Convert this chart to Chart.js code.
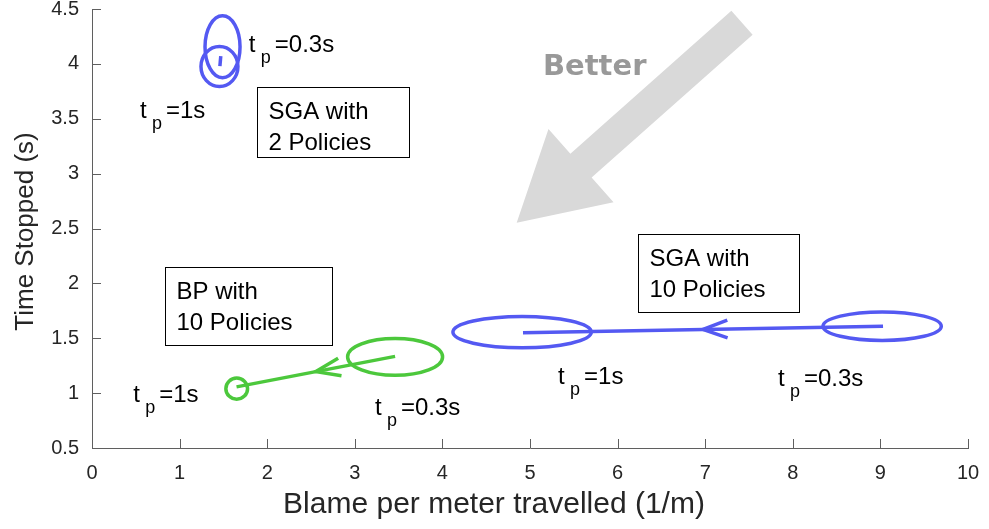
<!DOCTYPE html>
<html>
<head>
<meta charset="utf-8">
<script src="https://cdn.jsdelivr.net/npm/chart.js@4/dist/chart.umd.min.js"></script>
<style>
  html, body { margin: 0; padding: 0; background: #fff; }
  #wrap { width: 989px; height: 529px; position: relative; }
</style>
</head>
<body>
<div id="wrap"><canvas id="tradeoff"></canvas></div>
<script>
// axis ticks
const xTickValues = [0, 1, 2, 3, 4, 5, 6, 7, 8, 9, 10];
const yTickValues = [0.5, 1, 1.5, 2, 2.5, 3, 3.5, 4, 4.5];

// mean trajectories (t_p = 0.3s -> t_p = 1s)
const sga2X = [1.47, 1.46];
const sga2Y = [4.07, 3.98];
const sga10X = [9.03, 4.92];
const sga10Y = [1.61, 1.55];
const bpX = [3.46, 1.65];
const bpY = [1.335, 1.057];

// spread ellipses at both ends
const ellipseGroup = ['sga2', 'sga2', 'sga10', 'sga10', 'bp', 'bp'];
const ellipseCx = [1.49, 1.455, 4.91, 9.02, 3.46, 1.652];
const ellipseCy = [4.156, 3.976, 1.556, 1.61, 1.33, 1.041];
const ellipseRx = [0.20, 0.211, 0.79, 0.675, 0.542, 0.124];
const ellipseRy = [0.283, 0.182, 0.143, 0.13, 0.167, 0.096];

// t_p labels
const tpLabelX = [1.79, 0.548, 0.47, 3.23, 5.32, 7.83];
const tpLabelY = [4.11, 3.505, 0.92, 0.80, 1.087, 1.066];
const tpLabelText = ['0.3s', '1s', '1s', '0.3s', '1s', '0.3s'];

// boxed method names
const boxLines = [['SGA with', '2 Policies'], ['BP with', '10 Policies'], ['SGA with', '10 Policies']];
const boxX0 = [1.884, 0.833, 6.236];
const boxX1 = [3.619, 2.743, 8.074];
const boxYTop = [3.791, 2.151, 2.447];
const boxYBot = [3.152, 1.437, 1.735];

// "Better" arrow
const betterTail = [7.42, 4.375];
const betterTip = [4.848, 2.553];
const betterTextPos = [5.148, 3.90];

const BLUE = '#5459f2';
const GREEN = '#4cc83c';
const groupColor = { sga2: BLUE, sga10: BLUE, bp: GREEN };
const FONT = "'Liberation Sans', Arial, Helvetica, sans-serif";

function pts(xs, ys) {
    return xs.map((x, i) => ({ x: x, y: ys[i] }));
}

function noOverflow(s) {
    s.paddingTop = 0;
    s.paddingBottom = 0;
    s.paddingLeft = 0;
    s.paddingRight = 0;
}

const decorations = {
    id: 'decorations',
    beforeDatasetsDraw(chart) {
        const c = chart.ctx, xs = chart.scales.x, ys = chart.scales.y;
        // big gray arrow
        const tx = xs.getPixelForValue(betterTail[0]), ty = ys.getPixelForValue(betterTail[1]);
        const hx = xs.getPixelForValue(betterTip[0]), hy = ys.getPixelForValue(betterTip[1]);
        const L = Math.hypot(hx - tx, hy - ty);
        const ux = (hx - tx) / L, uy = (hy - ty) / L;
        const nx = -uy, ny = ux;
        const bx = hx - ux * 86, by = hy - uy * 86;
        c.save();
        c.fillStyle = '#d9d9d9';
        c.beginPath();
        c.moveTo(tx + nx * 16, ty + ny * 16);
        c.lineTo(bx + nx * 16, by + ny * 16);
        c.lineTo(bx + nx * 49, by + ny * 49);
        c.lineTo(hx, hy);
        c.lineTo(bx - nx * 49, by - ny * 49);
        c.lineTo(bx - nx * 16, by - ny * 16);
        c.lineTo(tx - nx * 16, ty - ny * 16);
        c.closePath();
        c.fill();
        c.fillStyle = '#999999';
        c.font = "bold 29px 'DejaVu Sans', sans-serif";
        c.textBaseline = 'alphabetic';
        c.fillText('Better', xs.getPixelForValue(betterTextPos[0]), ys.getPixelForValue(betterTextPos[1]));
        c.restore();
    },
    afterDatasetsDraw(chart) {
        const c = chart.ctx, xs = chart.scales.x, ys = chart.scales.y;
        const area = chart.chartArea;
        c.save();

        // ellipses
        c.lineWidth = 3.5;
        ellipseCx.forEach((cx, i) => {
            const px = xs.getPixelForValue(cx), py = ys.getPixelForValue(ellipseCy[i]);
            const rx = Math.abs(xs.getPixelForValue(cx + ellipseRx[i]) - px);
            const ry = Math.abs(ys.getPixelForValue(ellipseCy[i] + ellipseRy[i]) - py);
            c.strokeStyle = groupColor[ellipseGroup[i]];
            c.beginPath();
            c.ellipse(px, py, rx, ry, 0, 0, Math.PI * 2);
            c.stroke();
        });

        // arrowheads at middle of each trajectory
        chart.data.datasets.forEach((ds, i) => {
            const meta = chart.getDatasetMeta(i);
            const a = meta.data[0], b = meta.data[1];
            const len = Math.hypot(b.x - a.x, b.y - a.y);
            if (len < 40) return;
            const mx = (a.x + b.x) / 2, my = (a.y + b.y) / 2;
            const ang = Math.atan2(a.y - b.y, a.x - b.x);
            const w = 26, spread = 20 * Math.PI / 180;
            c.strokeStyle = ds.borderColor;
            c.lineWidth = 3.5;
            c.beginPath();
            c.moveTo(mx + w * Math.cos(ang + spread), my + w * Math.sin(ang + spread));
            c.lineTo(mx, my);
            c.lineTo(mx + w * Math.cos(ang - spread), my + w * Math.sin(ang - spread));
            c.stroke();
        });

        // t_p labels
        c.fillStyle = '#000';
        c.textBaseline = 'alphabetic';
        tpLabelX.forEach((x, i) => {
            const px = xs.getPixelForValue(x), py = ys.getPixelForValue(tpLabelY[i]);
            c.font = '24px ' + FONT;
            c.fillText('t', px, py);
            c.fillText('=' + tpLabelText[i], px + 26, py);
            c.font = '18px ' + FONT;
            c.fillText('p', px + 12, py + 11);
        });

        // boxes
        c.font = '24px ' + FONT;
        boxLines.forEach((lines, i) => {
            const x0 = Math.round(xs.getPixelForValue(boxX0[i])) + 0.5;
            const x1 = Math.round(xs.getPixelForValue(boxX1[i])) + 0.5;
            const y0 = Math.round(ys.getPixelForValue(boxYTop[i])) + 0.5;
            const y1 = Math.round(ys.getPixelForValue(boxYBot[i])) + 0.5;
            c.fillStyle = '#fff';
            c.fillRect(x0, y0, x1 - x0, y1 - y0);
            c.strokeStyle = '#000';
            c.lineWidth = 1;
            c.strokeRect(x0, y0, x1 - x0, y1 - y0);
            c.fillStyle = '#000';
            lines.forEach((t, k) => c.fillText(t, x0 + 11, y0 + 31.5 + k * 31));
        });

        // inward tick marks
        c.strokeStyle = '#5f5f5f';
        c.lineWidth = 1;
        c.beginPath();
        xTickValues.forEach(v => {
            const px = Math.round(xs.getPixelForValue(v)) + 0.5;
            c.moveTo(px, area.bottom);
            c.lineTo(px, area.bottom - 9);
        });
        yTickValues.forEach(v => {
            const py = Math.round(ys.getPixelForValue(v)) + 0.5;
            c.moveTo(area.left, py);
            c.lineTo(area.left + 9, py);
        });
        c.stroke();

        // axis titles
        c.fillStyle = '#262626';
        c.textAlign = 'center';
        c.font = '30px ' + FONT;
        c.fillText('Blame per meter travelled (1/m)', 494, 513);
        c.font = '26px ' + FONT;
        c.translate(33, 231.5);
        c.rotate(-Math.PI / 2);
        c.fillText('Time Stopped (s)', 0, 0);
        c.restore();
    }
};

new Chart(document.getElementById('tradeoff'), {
    type: 'scatter',
    data: {
        datasets: [
            { label: 'SGA 2 policies', data: pts(sga2X, sga2Y), borderColor: BLUE },
            { label: 'SGA 10 policies', data: pts(sga10X, sga10Y), borderColor: BLUE },
            { label: 'BP 10 policies', data: pts(bpX, bpY), borderColor: GREEN }
        ].map(d => Object.assign(d, { showLine: true, borderWidth: 3.5, pointRadius: 0, fill: false }))
    },
    options: {
        responsive: true,
        maintainAspectRatio: false,
        animation: false,
        events: [],
        layout: { padding: { left: 0, right: 21, top: 9, bottom: 0 } },
        plugins: { legend: { display: false }, tooltip: { enabled: false } },
        scales: {
            x: {
                type: 'linear', min: 0, max: 10,
                afterFit: s => { s.height = 81; noOverflow(s); },
                afterBuildTicks: s => { s.ticks = xTickValues.map(v => ({ value: v })); },
                grid: { display: false, drawTicks: false },
                border: { display: true, color: '#5f5f5f', width: 1 },
                ticks: { color: '#262626', padding: 13, font: { family: FONT, size: 20 }, maxRotation: 0, callback: v => String(v) }
            },
            y: {
                type: 'linear', min: 0.5, max: 4.5,
                afterFit: s => { s.width = 92; noOverflow(s); },
                afterBuildTicks: s => { s.ticks = yTickValues.map(v => ({ value: v })); },
                grid: { display: false, drawTicks: false },
                border: { display: true, color: '#5f5f5f', width: 1 },
                ticks: { color: '#262626', padding: 13, font: { family: FONT, size: 20 }, callback: v => String(v) }
            }
        }
    },
    plugins: [decorations]
});
</script>
</body>
</html>
